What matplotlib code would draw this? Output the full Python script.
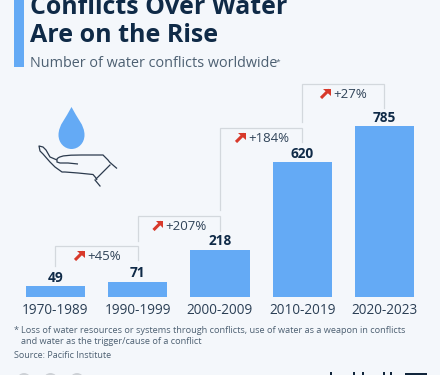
import matplotlib
matplotlib.use("Agg")
import matplotlib.pyplot as plt
from matplotlib.patches import Circle, Rectangle, PathPatch, Polygon
from matplotlib.path import Path

categories = ["1970-1989", "1990-1999", "2000-2009", "2010-2019", "2020-2023"]
values = [49, 71, 218, 620, 785]
changes = ["+45%", "+207%", "+184%", "+27%"]

BG = "#f4f7fb"
BLUE = "#64aaf5"
NAVY = "#0f2a47"
SLATE = "#4d6072"
GREY = "#d3d8dd"
RED = "#d8392b"
INK = "#2b3a4d"

plt.rcParams["font.family"] = ["Open Sans", "DejaVu Sans"]
W, H = 440, 375
fig = plt.figure(figsize=(W / 100, H / 100), dpi=100, facecolor=BG)

# bar axes: placed by pixel geometry of the reference
x0, x1, y_base, y_top = 14.2, 425.6, 297, 126
ax = fig.add_axes([x0 / W, 1 - y_base / H, (x1 - x0) / W, (y_base - y_top) / H])
ax.set_facecolor("none")
ax.set_xlim(-0.5, 4.5)
ax.set_ylim(0, 785)
ax.bar(range(5), values, width=0.72, color=BLUE)
for s in ax.spines.values():
    s.set_visible(False)
ax.set_yticks([])
ax.set_xticks(range(5), categories)
ax.tick_params(axis="x", length=0, pad=4.2, labelsize=9.8, labelcolor="#2b3f55")
for i, v in enumerate(values):
    ax.annotate(str(v), (i, v), xytext=(0, 0.8), textcoords="offset points",
                ha="center", va="bottom", fontsize=9.8, fontweight="bold", color=NAVY)

# overlay in pixel coordinates for decoration and text
ov = fig.add_axes([0, 0, 1, 1], facecolor="none")
ov.set_xlim(0, W)
ov.set_ylim(H, 0)
ov.axis("off")

ov.add_patch(Rectangle((13.5, -2), 10.5, 69, color=BLUE, lw=0))
ov.text(30, 13.7, "Conflicts Over Water", fontsize=17.9, fontweight="bold", color=NAVY, va="baseline")
ov.text(30, 42, "Are on the Rise", fontsize=18, fontweight="bold", color=NAVY, va="baseline")
ov.text(30, 67, "Number of water conflicts worldwide", fontsize=10.4, color=SLATE, va="baseline")
ov.text(276, 63.5, "*", fontsize=6, color=SLATE, va="baseline")

# change brackets
centers = [x0 + (x1 - x0) * (i + 0.5) / 5 for i in range(5)]
tops = [246, 216, 128, 84]
lefts = [266, 240.7, 210, 121.7]
rights = [260, 230.7, 141.7, 108]
arrow_x = [74, 152.5, 235, 320]
for i, ch in enumerate(changes):
    ov.plot([centers[i], centers[i], centers[i + 1], centers[i + 1]],
            [lefts[i], tops[i], tops[i], rights[i]], color=GREY, lw=0.9, solid_joinstyle="miter")
    ax_, ay = arrow_x[i], tops[i] + 4.5
    s = 10.5
    ov.plot([ax_ + 1, ax_ + s - 1.3], [ay + s - 1, ay + 1.3], color=RED, lw=2.2, solid_capstyle="butt")
    ov.add_patch(Polygon([(ax_ + 3, ay), (ax_ + s, ay), (ax_ + s, ay + 7)], color=RED, lw=0))
    ov.text(ax_ + 13, ay + 6, ch, fontsize=9.5, color="#2f4358", va="center", ha="left")

# footnotes
ov.text(14, 333, "*", fontsize=6.55, color=SLATE, va="baseline")
ov.text(21, 333, "Loss of water resources or systems through conflicts, use of water as a weapon in conflicts",
        fontsize=6.55, color=SLATE, va="baseline")
ov.text(21, 344, "and water as the trigger/cause of a conflict", fontsize=6.55, color=SLATE, va="baseline")
ov.text(13.5, 357.5, "Source: Pacific Institute", fontsize=6.45, color=SLATE, va="baseline")

# water drop
drop = Path([(71.5, 107), (66, 118), (58.5, 125), (58.5, 135), (58.5, 143), (64.5, 149), (71.5, 149),
             (78.5, 149), (84.5, 143), (84.5, 135), (84.5, 125), (77, 118), (71.5, 107)],
            [Path.MOVETO] + [Path.CURVE4] * 12)
ov.add_patch(PathPatch(drop, fc=BLUE, ec="none"))

# open hand
hand = Path([(117, 168.5), (113, 165), (110, 163), (108, 160),
             (103, 155), (95, 155), (88, 155), (70, 155), (60, 155),
             (57, 159), (57, 162), (60, 163), (68, 163), (78, 164)],
            [Path.MOVETO] + [Path.CURVE4] * 3 + [Path.LINETO, Path.LINETO, Path.LINETO] +
            [Path.CURVE4] * 3 + [Path.LINETO] * 4)
ov.add_patch(PathPatch(hand, fc="none", ec=INK, lw=0.9))
palm = Path([(57, 160), (50, 157), (46, 150), (43, 147), (39, 146), (40, 151), (43, 154),
             (50, 162), (55, 167), (62, 172), (65, 172), (78, 173), (88, 174), (93, 174.5), (96, 178), (97, 180)],
            [Path.MOVETO] + [Path.LINETO] * 15)
ov.add_patch(PathPatch(palm, fc="none", ec=INK, lw=0.9, joinstyle="round"))
ov.plot([96, 110], [179, 165], color=INK, lw=0.9)
ov.plot([95, 100], [180, 186], color=INK, lw=0.9)

# footer icons and logo, cut by the image edge
for cx in (24, 50.5, 77):
    ov.add_patch(Circle((cx, 380), 7, color="#cdd1d6", lw=0))
ov.add_patch(Rectangle((405, 373), 22, 4, color="#12263c", lw=0))
for lx in (330, 353, 362, 383, 390):
    ov.add_patch(Rectangle((lx, 372), 1.8, 4, color="#12263c", lw=0))

fig.savefig("out.png", dpi=100, facecolor=BG)
